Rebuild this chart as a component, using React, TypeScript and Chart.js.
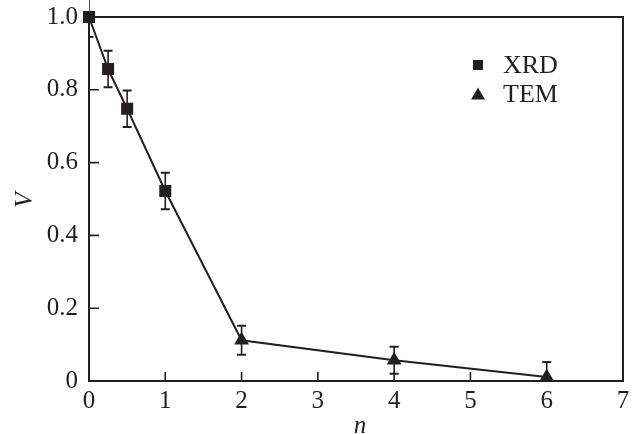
import { useEffect, useRef } from "react";
import { Chart, registerables } from "chart.js";
Chart.register(...registerables);

const xrdN = [0, 0.25, 0.5, 1];
const xrdV = [1.0, 0.857, 0.748, 0.522];
const xrdErr = [0.055, 0.05, 0.05, 0.05];
const temN = [2, 4, 6];
const temV = [0.112, 0.057, 0.011];
const temErr = [0.04, 0.037, 0.041];
const xTickValues = [0, 1, 2, 3, 4, 5, 6, 7];
const yTickValues = [0, 0.2, 0.4, 0.6, 0.8, 1.0];
const yTickLabels = ["0", "0.2", "0.4", "0.6", "0.8", "1.0"];
const seriesNames = ["XRD", "TEM"];
const xTitle = "n";
const yTitle = "V";

const INK = "#231f20";
const FONT = '"Liberation Serif", "Times New Roman", Tinos, Times, serif';
const FS = 25;

const decorPlugin = {
  id: "decor",
  beforeDatasetsDraw(chart: any) {
    const { ctx, chartArea, scales } = chart;
    const xs = scales.x;
    const ys = scales.y;
    ctx.save();
    ctx.beginPath();
    ctx.rect(chartArea.left, chartArea.top - 40, chartArea.right - chartArea.left, chartArea.bottom - chartArea.top + 40);
    ctx.clip();
    ctx.strokeStyle = INK;
    const drawErr = (ns: number[], vs: number[], es: number[]) => {
      ns.forEach((n, i) => {
        const px = xs.getPixelForValue(n);
        const top = Math.max(ys.getPixelForValue(vs[i] + es[i]), -10);
        const bot = Math.min(ys.getPixelForValue(vs[i] - es[i]), chartArea.bottom + 20);
        ctx.lineWidth = 1.6;
        ctx.beginPath();
        ctx.moveTo(px, top);
        ctx.lineTo(px, bot);
        ctx.stroke();
        ctx.lineWidth = 2;
        ctx.beginPath();
        ctx.moveTo(px - 4.5, top);
        ctx.lineTo(px + 4.5, top);
        if (bot < chartArea.bottom) {
          ctx.moveTo(px - 4.5, bot);
          ctx.lineTo(px + 4.5, bot);
        }
        ctx.stroke();
      });
    };
    drawErr(xrdN, xrdV, xrdErr);
    drawErr(temN, temV, temErr);
    ctx.restore();
  },
  afterDraw(chart: any) {
    const { ctx, chartArea, scales } = chart;
    const xs = scales.x;
    const ys = scales.y;
    ctx.save();
    ctx.strokeStyle = INK;
    ctx.lineWidth = 2;
    ctx.beginPath();
    ctx.moveTo(chartArea.left, chartArea.top);
    ctx.lineTo(chartArea.right, chartArea.top);
    ctx.lineTo(chartArea.right, chartArea.bottom);
    ctx.stroke();
    ctx.lineWidth = 1.6;
    ctx.beginPath();
    xTickValues.slice(1, -1).forEach((v) => {
      const px = xs.getPixelForValue(v);
      ctx.moveTo(px, chartArea.bottom);
      ctx.lineTo(px, chartArea.bottom - 9);
    });
    yTickValues.slice(1, -1).forEach((v) => {
      const py = ys.getPixelForValue(v);
      ctx.moveTo(chartArea.left, py);
      ctx.lineTo(chartArea.left + 10, py);
    });
    ctx.stroke();

    ctx.fillStyle = INK;
    ctx.font = `italic ${FS}px ${FONT}`;
    ctx.textAlign = "center";
    ctx.textBaseline = "middle";
    ctx.fillText(xTitle, 360, 426);
    ctx.save();
    ctx.translate(25, 200);
    ctx.rotate(-Math.PI / 2);
    ctx.fillText(yTitle, 0, 0);
    ctx.restore();

    ctx.font = `${FS + 1}px ${FONT}`;
    ctx.textAlign = "left";
    const lx = 478;
    const ly = [65, 94];
    ctx.fillRect(lx - 5, ly[0] - 5, 10, 10);
    ctx.beginPath();
    ctx.moveTo(lx, ly[1] - 6.5);
    ctx.lineTo(lx + 7, ly[1] + 5.5);
    ctx.lineTo(lx - 7, ly[1] + 5.5);
    ctx.closePath();
    ctx.fill();
    ctx.fillText(seriesNames[0], 503, ly[0] + 1);
    ctx.fillText(seriesNames[1], 503, ly[1] + 1);
    ctx.restore();
  },
};

export default function App() {
  const ref = useRef<HTMLCanvasElement | null>(null);
  useEffect(() => {
    document.body.style.margin = "0";
    const canvas = ref.current;
    if (!canvas) return;
    let chart: any = null;
    let cancelled = false;
    const build = () => {
      if (cancelled) return;
      const allN = [...xrdN, ...temN];
      const allV = [...xrdV, ...temV];
      chart = new Chart(canvas, {
        type: "scatter",
        data: {
          datasets: [
            {
              label: seriesNames[0],
              data: xrdN.map((n, i) => ({ x: n, y: xrdV[i] })),
              pointStyle: "rect",
              pointRadius: 8.5,
              backgroundColor: INK,
              borderColor: INK,
              borderWidth: 0,
              showLine: false,
              clip: false,
            } as any,
            {
              label: seriesNames[1],
              data: temN.map((n, i) => ({ x: n, y: temV[i] })),
              pointStyle: "triangle",
              pointRadius: 8.5,
              backgroundColor: INK,
              borderColor: INK,
              borderWidth: 0,
              showLine: false,
              clip: false,
            } as any,
            {
              label: "line",
              data: allN.map((n, i) => ({ x: n, y: allV[i] })),
              showLine: true,
              pointRadius: 0,
              borderColor: INK,
              borderWidth: 2,
              fill: false,
              tension: 0,
              clip: false,
            } as any,
          ],
        },
        options: {
          animation: false,
          responsive: false,
          maintainAspectRatio: false,
          layout: { padding: { top: 17, right: 11, left: 0, bottom: 0 } },
          plugins: {
            legend: { display: false },
            tooltip: { enabled: false },
          },
          scales: {
            x: {
              type: "linear",
              min: 0,
              max: 7,
              grid: { display: false, drawTicks: false },
              border: { display: true, color: INK, width: 2 },
              afterBuildTicks: (s: any) => {
                s.ticks = xTickValues.map((v) => ({ value: v }));
              },
              afterFit: (s: any) => {
                s.height = 53;
                s.paddingLeft = 0;
                s.paddingRight = 0;
              },
              ticks: {
                color: INK,
                font: { family: FONT, size: FS },
                padding: 5,
                maxRotation: 0,
                callback: (v: any) => String(v),
              },
            },
            y: {
              type: "linear",
              min: 0,
              max: 1,
              grid: { display: false, drawTicks: false },
              border: { display: true, color: INK, width: 2 },
              afterBuildTicks: (s: any) => {
                s.ticks = yTickValues.map((v) => ({ value: v }));
              },
              afterFit: (s: any) => {
                s.width = 89;
                s.paddingTop = 0;
                s.paddingBottom = 0;
              },
              ticks: {
                color: INK,
                font: { family: FONT, size: FS },
                padding: 11,
                callback: (v: any) => {
                  const i = yTickValues.findIndex((t) => Math.abs(t - v) < 1e-9);
                  return i >= 0 ? yTickLabels[i] : "";
                },
              },
            },
          },
        } as any,
        plugins: [decorPlugin],
      });
    };
    const fontsApi: any = (document as any).fonts;
    if (fontsApi && fontsApi.load) {
      Promise.all([
        fontsApi.load(`${FS}px "Liberation Serif"`),
        fontsApi.load(`italic ${FS}px "Liberation Serif"`),
      ]).then(build, build);
    } else {
      build();
    }
    return () => {
      cancelled = true;
      if (chart) chart.destroy();
    };
  }, []);
  return (
    <div style={{ width: 634, height: 434 }}>
      <canvas ref={ref} width={634} height={434} />
    </div>
  );
}
